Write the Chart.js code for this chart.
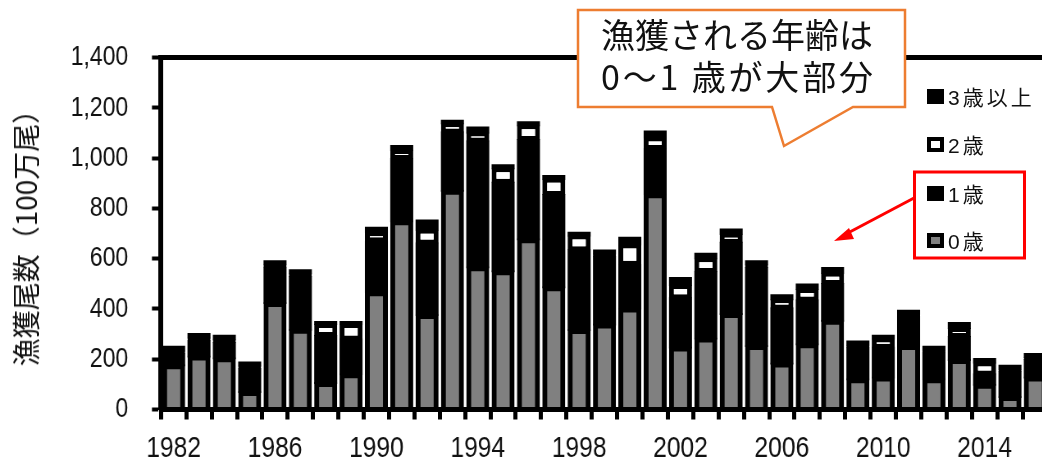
<!DOCTYPE html>
<html lang="ja">
<head>
<meta charset="utf-8">
<title>漁獲尾数</title>
<script src="https://cdn.jsdelivr.net/npm/chart.js@4/dist/chart.umd.min.js"></script>
<style>
  html, body { margin: 0; padding: 0; background: #fff; overflow: hidden; }
  #stage { position: relative; width: 1042px; height: 461px; overflow: hidden; }
  /* 数字を細めに見せるため横方向だけ縮めて描く */
  #chartBox { position: absolute; left: 0; top: 0; width: 1278px; height: 461px;
              transform: scaleX(0.82); transform-origin: 0 0; }
  #yTitle { position: absolute; left: 25px; top: 231px; transform: translate(-50%, -50%) rotate(-90deg);
            font-family: 'Noto Sans CJK JP', sans-serif; font-size: 28px; color: #111; white-space: nowrap; }
  #legend { position: absolute; left: 927px; top: 0; width: 115px; height: 260px;
            font-family: 'Liberation Sans', 'Noto Sans CJK JP', sans-serif; font-size: 21px; color: #111; }
  #legend .item { position: absolute; left: 0; height: 24px; display: flex; align-items: center; white-space: nowrap; }
  #legend .sw { width: 17px; height: 15px; box-sizing: border-box; background: #000; margin-right: 4px; }
  #legend .txt { letter-spacing: 3px; }
  #notes { position: absolute; left: 0; top: 0; }
</style>
</head>
<body>
<div id="stage">
  <div id="chartBox"><canvas id="catchChart"></canvas></div>
  <div id="yTitle">漁獲尾数（100万尾）</div>
  <div id="legend"></div>
  <svg id="notes" width="1042" height="461" viewBox="0 0 1042 461">
    <!-- 吹き出し -->
    <path d="M578,10 H905 V107 H853 L784,146 L772,107 H578 Z" fill="#fff" stroke="#ED7D31" stroke-width="2.5"/>
    <text x="601" y="48" font-family="'Noto Sans CJK JP', sans-serif" font-size="34" fill="#111">漁獲される年齢は</text>
    <text x="601" y="90" font-family="'Noto Sans CJK JP', sans-serif" font-size="34" fill="#111"
          textLength="272" lengthAdjust="spacing">0～1 歳が大部分</text>
    <!-- 0～1歳の凡例を囲む枠と矢印 -->
    <rect x="914.5" y="172" width="110" height="86" fill="none" stroke="#f00" stroke-width="3"/>
    <line x1="914" y1="198" x2="846" y2="234" stroke="#f00" stroke-width="3"/>
    <polygon points="834,241 849,228 854,239" fill="#f00"/>
  </svg>
</div>

<script>
// 年別・年齢別の漁獲尾数（100万尾）
const years = [1982, 1983, 1984, 1985, 1986, 1987, 1988, 1989, 1990, 1991,
               1992, 1993, 1994, 1995, 1996, 1997, 1998, 1999, 2000, 2001,
               2002, 2003, 2004, 2005, 2006, 2007, 2008, 2009, 2010, 2011,
               2012, 2013, 2014, 2015, 2016];
const age0 = [176, 211, 204, 70, 424, 317, 105, 140, 466, 749,
              376, 870, 566, 550, 677, 486, 316, 338, 402, 856,
              247, 282, 380, 253, 183, 260, 353, 120, 127, 253,
              120, 197, 98, 50, 127];
const age1 = [44, 60, 60, 90, 140, 210, 187, 138, 203, 247,
              284, 232, 500, 352, 395, 367, 317, 270, 174, 180,
              195, 265, 283, 310, 219, 174, 146, 126, 119, 116,
              106, 91, 41, 100, 70];
const age2 = [15, 15, 15, 15, 14, 15, 48, 62, 36, 36,
              55, 36, 36, 58, 59, 65, 59, 12, 80, 46,
              53, 55, 36, 15, 36, 45, 45, 12, 36, 12,
              12, 36, 48, 12, 12];
const age3plus = [15, 14, 14, 12, 12, 12, 8, 8, 18, 16,
                  37, 10, 20, 11, 11, 11, 11, 12, 27, 24,
                  28, 17, 17, 12, 16, 18, 19, 12, 11, 12,
                  12, 20, 14, 12, 12];

const yMax = 1400;
const yStep = 200;
const labelEvery = 4;

const numFont = "'Liberation Sans', Arial, sans-serif";

// 黒い棒は上下に少し重ねて継ぎ目を消す（inflateAmount）
const barCommon = { barPercentage: 0.843, categoryPercentage: 1.0, inflateAmount: 1 };

const datasets = [
  { label: '0歳', data: age0, backgroundColor: '#808080', borderColor: '#000',
    borderWidth: { top: 5, left: 6, right: 6, bottom: 0 }, borderSkipped: 'start', legendInner: '#808080' },
  { label: '1歳', data: age1, backgroundColor: '#000', borderWidth: 0 },
  // 2歳は膨らませず、その分だけ幅を広げて他の段とそろえる
  { label: '2歳', data: age2, backgroundColor: '#fff', borderColor: '#000',
    borderWidth: { top: 4, bottom: 4, left: 6, right: 6 }, borderSkipped: false,
    inflateAmount: 0, barPercentage: 0.9076, legendInner: '#fff' },
  { label: '3歳以上', data: age3plus, backgroundColor: '#000', borderWidth: 0 }
].map(d => Object.assign({}, barCommon, d));

const ctx = document.getElementById('catchChart').getContext('2d');
new Chart(ctx, {
  type: 'bar',
  data: { labels: years.map(String), datasets: datasets },
  options: {
    responsive: true,
    maintainAspectRatio: false,
    animation: false,
    locale: 'en-US',
    layout: { padding: { top: 57.5, right: 0, bottom: 0, left: 0 } },
    plugins: { legend: { display: false }, tooltip: { enabled: false } },
    scales: {
      x: {
        stacked: true,
        offset: true,
        grid: { display: true, offset: true, drawOnChartArea: false, drawTicks: true,
                tickLength: 10, tickWidth: 5, tickColor: '#000', z: 1 },
        border: { display: true, color: '#000', width: 5, z: 1 },
        ticks: {
          autoSkip: false, maxRotation: 0, padding: 11, color: '#111',
          font: { family: numFont, size: 30 },
          callback: (v, i) => ((years[i] - years[0]) % labelEvery === 0 ? String(years[i]) : '')
        },
        afterFit: (s) => { s.height = 51.5; }
      },
      // 上側の枠線
      xTop: {
        type: 'category',
        position: 'top',
        labels: years.map(String),
        offset: true,
        ticks: { display: false },
        grid: { display: true, drawOnChartArea: false, drawTicks: false },
        border: { display: true, color: '#000', width: 5 },
        afterFit: (s) => { s.height = 0; }
      },
      y: {
        stacked: true,
        min: 0,
        max: yMax,
        ticks: { stepSize: yStep, padding: 29, color: '#111', font: { family: numFont, size: 28 } },
        grid: { drawOnChartArea: false, drawTicks: true, tickLength: 11, tickWidth: 4, tickColor: '#000' },
        border: { display: true, color: '#000', width: 6 },
        afterFit: (s) => { s.width = 196.3; }
      }
    }
  }
});

// 凡例（上から 3歳以上, 2歳, 1歳, 0歳）
const legendBox = document.getElementById('legend');
const legendCenters = [96, 144, 193, 240];
datasets.slice().reverse().forEach((d, i) => {
  const item = document.createElement('div');
  item.className = 'item';
  item.style.top = (legendCenters[i] - 12) + 'px';
  const sw = document.createElement('div');
  sw.className = 'sw';
  if (d.legendInner) {
    sw.style.border = '4px solid #000';
    sw.style.background = d.legendInner;
  }
  const txt = document.createElement('span');
  txt.className = 'txt';
  txt.textContent = d.label;
  item.appendChild(sw);
  item.appendChild(txt);
  legendBox.appendChild(item);
});
</script>
</body>
</html>
